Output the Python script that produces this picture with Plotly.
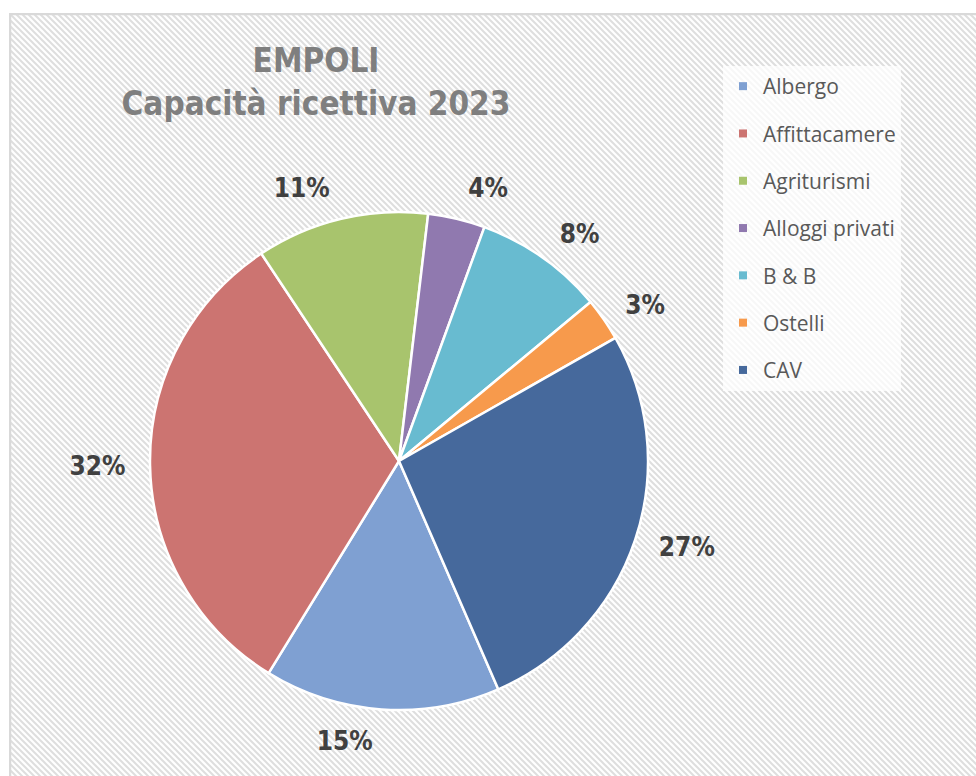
import base64
import plotly.graph_objects as go

# ---- data ----
categories = ["Albergo", "Affittacamere", "Agriturismi", "Alloggi privati", "B & B", "Ostelli", "CAV"]
shares = [15.3, 31.9, 11.2, 3.7, 8.4, 2.8, 26.7]
colors = ["#7FA0D2", "#CC7471", "#A8C46D", "#9079AF", "#68BBD0", "#F79A4C", "#46699C"]
title_lines = ["EMPOLI", "Capacità ricettiva 2023"]

W, H = 976, 776
NARROW = "DejaVu Sans Condensed, Liberation Sans Narrow, Arial Narrow, sans-serif"

# pie geometry (pixels)
CX, CY, R = 399, 461, 249
R_LABEL = 266  # invisible ring carrying the outside labels (Excel-like label distance)


def domain(r):
    return dict(x=[(CX - r) / W, (CX + r) / W], y=[1 - (CY + r) / H, 1 - (CY - r) / H])


# hatched background (light downward diagonal)
bw, bh = W - 9, H - 13
svg = f'''<svg xmlns="http://www.w3.org/2000/svg" width="{bw}" height="{bh}" viewBox="0 0 {bw} {bh}" preserveAspectRatio="none">
<defs><pattern id="p" width="6" height="6" patternUnits="userSpaceOnUse">
<rect width="6" height="6" fill="#FFFFFF"/>
<path d="M-1,-1 L7,7 M-1,5 L1,7 M5,-1 L7,1" stroke="#DEDEDE" stroke-width="2.0"/>
</pattern></defs>
<rect width="{bw}" height="{bh}" fill="url(#p)"/>
<rect x="1" y="1" width="{bw+5}" height="{bh+5}" fill="none" stroke="#D9D9D9" stroke-width="2.5"/>
</svg>'''
bg_uri = "data:image/svg+xml;base64," + base64.b64encode(svg.encode()).decode()

fig = go.Figure()
# label ring (transparent slices, same data)
fig.add_trace(go.Pie(
    labels=categories,
    values=shares,
    sort=False,
    direction="clockwise",
    rotation=156.5,
    marker=dict(colors=["rgba(0,0,0,0)"] * len(categories), line=dict(width=0)),
    textinfo="percent",
    texttemplate="<b>%{percent:.0%}</b>",
    textposition="outside",
    outsidetextfont=dict(family=NARROW, size=26, color="#404040"),
    domain=domain(R_LABEL),
    showlegend=False,
    hoverinfo="skip",
))
# visible pie
fig.add_trace(go.Pie(
    labels=categories,
    values=shares,
    sort=False,
    direction="clockwise",
    rotation=156.5,
    marker=dict(colors=colors, line=dict(color="white", width=2.5)),
    textinfo="none",
    domain=domain(R),
    showlegend=False,
    hoverinfo="label+percent",
))

# legend entries (one group each, for the wide Excel-like spacing)
for name, col in zip(categories, colors):
    fig.add_trace(go.Scatter(
        x=[None], y=[None], mode="markers", name=name,
        marker=dict(symbol="square", size=8, color=col),
        legendgroup=name, showlegend=True, hoverinfo="skip",
    ))

fig.update_layout(
    width=W, height=H,
    margin=dict(l=0, r=0, t=0, b=0),
    paper_bgcolor="white",
    plot_bgcolor="rgba(0,0,0,0)",
    xaxis=dict(visible=False), yaxis=dict(visible=False),
    title=dict(
        text="<b>" + "<br>".join(title_lines) + "</b>",
        x=316 / W, xanchor="center", y=1 - 72 / H, yanchor="top",
        font=dict(family=NARROW, size=33, color="#7F7F7F"),
    ),
    legend=dict(
        x=723 / W, xanchor="left", y=1 - 66 / H, yanchor="top",
        bgcolor="rgba(255,255,255,0.75)",
        font=dict(family="Open Sans, Lato, sans-serif", size=21, color="#595959"),
        tracegroupgap=17,
        itemclick=False,
    ),
    images=[dict(
        source=bg_uri, xref="paper", yref="paper",
        x=9 / W, y=1 - 13 / H, sizex=bw / W, sizey=bh / H,
        xanchor="left", yanchor="top", sizing="stretch", layer="below",
    )],
)

fig.write_html("out.html", config={"displayModeBar": False},
               post_script="document.body.style.margin='0';")
